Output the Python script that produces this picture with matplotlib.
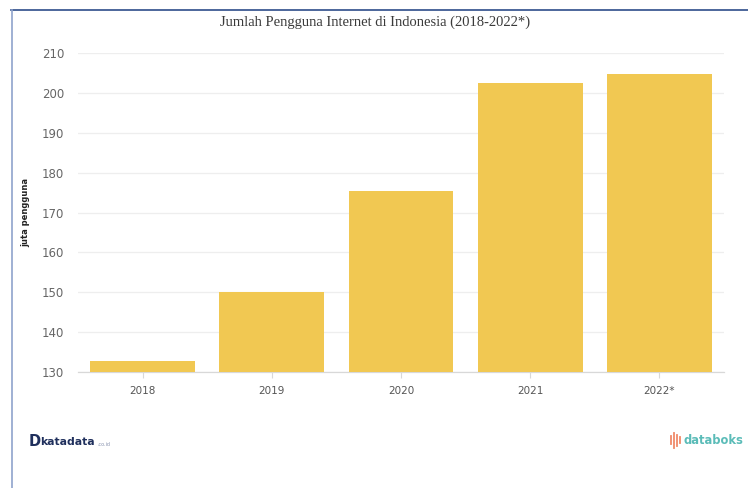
import matplotlib
matplotlib.use("Agg")
import matplotlib.pyplot as plt
from matplotlib.lines import Line2D

categories = ["2018", "2019", "2020", "2021", "2022*"]
values = [132.7, 150.0, 175.4, 202.6, 204.7]
yticks = [130, 140, 150, 160, 170, 180, 190, 200, 210]

W, H = 748, 488
fig = plt.figure(figsize=(W / 100, H / 100), dpi=100)
fig.patch.set_facecolor("white")

ax = fig.add_axes([78 / W, 1 - 372 / H, (724 - 78) / W, (372 - 53) / H])
x = list(range(len(categories)))
ax.bar(x, values, width=0.81, color="#F1C852", bottom=0, zorder=3)
ax.set_xlim(-0.5, 4.5)
ax.set_ylim(130, 210)
ax.set_yticks(yticks)
ax.set_xticks(x)
ax.set_xticklabels(categories)
ax.grid(axis="y", color="#eeeeee", linewidth=0.9, zorder=0)
for s in ["top", "right", "left"]:
    ax.spines[s].set_visible(False)
ax.spines["bottom"].set_color("#d8d8d8")
ax.spines["bottom"].set_linewidth(0.9)
ax.tick_params(axis="y", length=0, labelsize=8.5, labelcolor="#666666", pad=10)
ax.tick_params(axis="x", length=4, color="#d8d8d8", labelsize=7.5, labelcolor="#555555", pad=6)
ax.set_ylabel("juta pengguna", fontsize=6, fontweight="bold", color="#222222", labelpad=8)

fig.text(375 / W, 1 - 22 / H, "Jumlah Pengguna Internet di Indonesia (2018-2022*)",
         family="Liberation Serif", fontsize=10.5, color="#3a3a3a", ha="center", va="center")

# frame lines
fig.add_artist(Line2D([11 / W, 1], [1 - 10 / H, 1 - 10 / H], transform=fig.transFigure,
                      color="#2e4d8a", linewidth=1.2))
fig.add_artist(Line2D([12 / W, 12 / W], [0, 1 - 10 / H], transform=fig.transFigure,
                      color="#8fa3cc", linewidth=1.2))

# logos as text
fig.text(29 / W, 1 - 441 / H, "D", fontsize=10.5, fontweight="bold", color="#1f2f5c",
         ha="left", va="center")
fig.text(40 / W, 1 - 442 / H, "katadata", fontsize=7.8, fontweight="bold", color="#1f2f5c",
         ha="left", va="center")
fig.text(97 / W, 1 - 444 / H, ".co.id", fontsize=3.5, color="#8a94b0", ha="left", va="center")

# databoks icon: small vertical strokes
icon_x = [671, 674, 677, 680]
icon_h = [(436, 444), (433, 448), (435, 446), (437, 443)]
for xi, (y0, y1) in zip(icon_x, icon_h):
    fig.add_artist(Line2D([xi / W, xi / W], [1 - y0 / H, 1 - y1 / H], transform=fig.transFigure,
                          color="#f08a6a", linewidth=1.3))
fig.text(684 / W, 1 - 441 / H, "databoks", fontsize=8.3, fontweight="bold", color="#5bbcb8",
         ha="left", va="center")

fig.savefig("out.png", dpi=100, facecolor="white")
